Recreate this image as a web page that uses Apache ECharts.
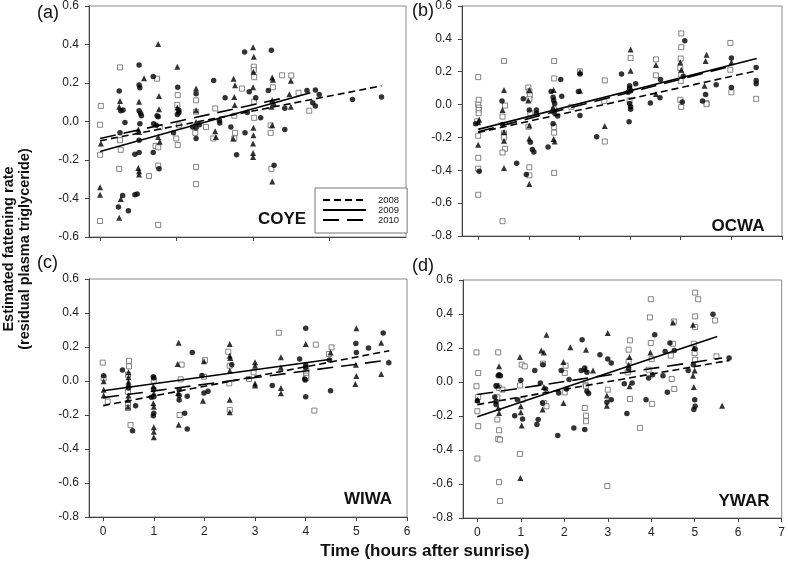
<!DOCTYPE html>
<html>
<head>
<meta charset="utf-8">
<script src="https://cdn.jsdelivr.net/npm/echarts@6/dist/echarts.min.js"></script>
<style>html,body{margin:0;padding:0;background:#fff}#c{width:788px;height:561px}</style>
</head>
<body>
<div id="c"></div>
<script>
// ---------- DATA ----------
const years = ['2008', '2009', '2010'];
const yTicksA = [-0.6, -0.4, -0.2, 0, 0.2, 0.4, 0.6];
const yTicksB = [-0.8, -0.6, -0.4, -0.2, 0, 0.2, 0.4, 0.6];
const xTicksA = [0, 2, 4, 6];
const xTicksB = [0, 1, 2, 3, 4, 5, 6];
const xTicksC = [0, 1, 2, 3, 4, 5, 6];
const xTicksD = [0, 1, 2, 3, 4, 5, 6, 7];
const speciesNames = ['COYE', 'OCWA', 'WIWA', 'YWAR'];
const panelLetters = ['(a)', '(b)', '(c)', '(d)'];

// COYE (a)
const coyeCircles = [[0.5,0.158],[0.54,0.056],[0.6,0.06],[0.65,-0.005],[0.52,-0.059],[0.59,-0.385],[0.48,-0.444],[0.74,-0.464],
[1.02,0.293],[1.02,0.19],[1.04,0.175],[1.02,0.056],[1.06,0.042],[1.08,0.03],[1.04,-0.012],[1.02,-0.097],[0.91,-0.17],[1.02,-0.161],[0.91,-0.381],[0.97,-0.376],
[1.39,0.234],[1.52,0.025],[1.49,0.03],[1.4,-0.012],[1.47,-0.02],[1.39,-0.161],[1.54,-0.246],
[2.03,0.178],[2.06,0.059],[2.06,0.047],[2.02,0.036],[1.92,-0.058],
[2.51,0.144],[2.42,-0.029],[2.51,-0.032],[2.6,-0.017],[2.51,-0.088],
[2.97,0.213],[3.27,0.124],[3.12,0.005],[3.13,-0.008],[3.42,-0.029],[3.57,-0.173],
[3.78,0.361],[3.85,0.047],[3.79,-0.059],[3.9,0.154],[4.07,0.124],[4.2,0.019],
[4.48,0.37],[4.4,0.161],[4.55,-0.227],[4.83,-0.042],[4.83,0.069],
[5.41,0.161],[5.63,0.163],[5.73,0.14],[5.56,0.098],[5.63,0.081],[6.6,0.114],[7.36,0.127]];
const coyeTriangles = [[0.02,-0.114],[0,-0.342],[0,-0.38],[0.52,0.107],[0.5,0.076],[0.54,-0.402],[0.5,-0.5],
[1.15,0.225],[1.02,0.102],[1.0,-0.042],[1.02,-0.054],[1.0,-0.241],[1.02,-0.258],[1.02,-0.275],
[1.52,0.403],[1.54,0.132],[1.54,0.064],[1.52,-0.08],[1.56,-0.105],
[2.02,0.285],[2.02,0.073],[2.51,0.171],[2.51,0.059],[2.51,-0.003],[3.01,-0.051],[3.03,-0.08],
[3.49,0.222],[3.53,0.188],[3.51,0.127],[3.52,0.086],[3.48,-0.088],
[4.0,0.386],[4.02,0.336],[4.01,0.259],[4.0,0.178],[4.01,-0.032],[4.01,-0.071],[4.0,-0.114],[4.0,-0.164],[4.0,-0.185],
[4.5,0.229],[4.52,0.217],[4.5,0.11],[4.55,0.093],[4.48,0.076],[4.5,-0.02],[4.5,-0.312],
[4.99,0.212],[4.95,0.141],[4.99,0.076]];
const coyeSquares = [[0.02,0.081],[0,-0.017],[0,-0.173],[0,-0.517],[0.52,0.281],[0.52,-0.097],[0.54,-0.147],[0.5,-0.246],
[1.49,0.222],[1.56,-0.029],[1.45,-0.127],[1.52,-0.134],[1.52,-0.229],[1.28,-0.283],[1.52,-0.537],
[2.03,0.137],[2.02,0.086],[2.06,-0.02],[1.99,-0.088],[2.03,-0.122],
[2.51,0.11],[2.51,0.051],[2.49,-0.059],[2.51,-0.236],[2.51,-0.325],[2.77,-0.029],
[3.01,0.068],[2.96,-0.088],[3.51,0.03],[3.71,0.171],[3.53,-0.059],[3.51,-0.088],
[4.02,0.285],[4.02,0.268],[4.03,0.23],[4.03,0.103],[4.03,0.019],
[4.52,0.178],[4.46,-0.02],[4.46,-0.059],[4.48,-0.246],[4.76,0.24],[5.0,0.239],[5.19,0.149],[5.47,0.056]];
const coye2008 = [[0,-0.10],[7.36,0.185]];
const coye2009 = [[0,-0.156],[5.5,0.149]];
const coye2010 = [[0,-0.088],[4.85,0.124]];

// OCWA (b)
const ocwaCircles = [[-0.05,-0.116],[0.02,-0.406],[0.47,0.022],[0.48,-0.122],[0.89,0.035],[0.76,-0.357],
[1.01,-0.033],[1.03,-0.229],[1.07,-0.273],[1.1,-0.288],[0.95,-0.425],[1.15,-0.053],[1.15,-0.033],[1.38,-0.259],
[1.44,0.08],[1.48,0.045],[1.49,0.025],[1.51,0.006],[1.5,-0.049],[1.57,-0.069],[1.48,-0.116],[1.63,0.153],[1.65,0.051],
[2.01,0.186],[1.98,0.08],[2.01,-0.067],[2.34,-0.196],[2.83,0.186],
[3.11,0.127],[2.99,0.114],[2.99,0.1],[3.01,0.084],[2.96,0.075],[2.99,0.006],[3.01,-0.014],[3.01,-0.029],[2.98,-0.104],
[3.4,0.01],[3.6,0.153],[3.59,0.041],[4.08,0.388],[4.05,0.173],[4.03,0.016],[4.43,0.022],[4.49,0.061],[4.7,0.12],
[5.0,0.284],[5.0,0.104],[5.49,0.226],[5.49,0.147],[5.49,0.127]];
const ocwaTriangles = [[0.02,-0.092],[0,-0.108],[0,-0.245],[0.51,0.088],[0.48,-0.033],[0.51,-0.167],[0.51,-0.22],[0.51,-0.386],
[1.01,0.088],[0.99,0.025],[1.01,-0.127],[1.01,-0.206],[1.01,-0.484],[1.49,0.088],[1.48,-0.018],[1.49,-0.21],[1.51,-0.225],
[2.01,0.198],[2.01,0.084],[2.5,-0.131],[3.01,0.335],[3.01,0.206],[3.51,0.241],[3.51,0.065],
[3.99,0.257],[4.01,0.212],[4.51,0.304],[4.49,0.265],[4.47,0.114],[5.0,0.257]];
const ocwaSquares = [[0,0.167],[0,0.002],[0.01,0.029],[0.01,-0.018],[0.01,-0.033],[0.01,-0.053],[-0.02,-0.102],[0,-0.19],[0,-0.324],[0,-0.39],[0,-0.549],
[0.51,0.265],[0.53,-0.006],[0.48,-0.073],[0.51,-0.175],[0.51,-0.2],[0.53,-0.269],[0.48,-0.292],[0.48,-0.71],
[0.99,0.104],[1.01,0.08],[1.02,0.055],[1.01,0.035],[1.03,-0.053],[0.99,-0.135],[1.01,-0.382],[1.01,-0.431],
[1.5,0.265],[1.5,0.159],[1.5,-0.029],[1.5,-0.137],[1.5,-0.171],[1.5,-0.416],[1.84,-0.014],
[2.01,0.202],[2.5,0.147],[2.49,0.022],[2.5,-0.225],[3.01,0.284],[2.99,0.025],[3.51,0.275],[3.51,0.178],
[4.01,0.433],[4.01,0.349],[4.0,0.28],[3.99,0.222],[4.01,0.182],[4.0,0.143],[3.99,0.029],[4.01,-0.014],
[4.51,0.01],[4.51,0.002],[4.98,0.375],[4.98,0.212],[5.0,0.075],[5.49,0.035]];
const ocwa2008 = [[0,-0.17],[5.5,0.206]];
const ocwa2009 = [[0,-0.151],[5.5,0.28]];
const ocwa2010 = [[0,-0.165],[5.0,0.235]];

// WIWA (c)
const wiwaCircles = [[0.01,0.031],[0.38,0.065],[0.5,-0.041],[0.64,-0.145],[0.58,-0.292],
[0.99,0.025],[1.0,0.018],[1.0,-0.047],[0.95,-0.096],[1.0,-0.092],[1.0,-0.19],[0.99,-0.204],
[1.5,-0.051],[1.5,-0.086],[1.5,-0.112],[1.61,-0.19],[1.66,-0.09],[1.66,-0.282],[1.76,0.168],
[1.95,0.033],[2.07,-0.061],[1.99,-0.071],[2.54,0.096],[3.34,-0.027],[3.88,0.129],
[4.0,0.311],[4.0,0.094],[4.0,0.08],[3.98,0.012],[3.99,0.006],[4.0,-0.092],[4.47,0.123],[4.49,-0.057],
[4.99,0.221],[5.0,0.168],[5.24,0.194],[5.53,0.282],[5.64,0.108]];
const wiwaTriangles = [[0.01,-0.002],[0.01,-0.051],[0.01,-0.086],[0.5,0.051],[0.5,0.022],[0.5,-0.004],[0.5,-0.018],[0.5,-0.086],[0.49,-0.112],[0.49,-0.151],
[0.99,-0.031],[1.0,-0.072],[0.99,-0.131],[1.0,-0.151],[1.0,-0.272],[1.0,-0.298],[1.0,-0.331],
[1.49,0.225],[1.47,0.1],[1.48,-0.071],[1.49,-0.257],[1.99,0.116],[1.97,-0.116],
[2.5,0.217],[2.5,0.149],[2.51,0.135],[2.5,0.061],[2.5,-0.11],[2.5,-0.184],
[3.0,0.11],[3.0,0.09],[3.0,-0.014],[3.0,-0.027],[3.51,0.139],[3.51,0.08],[3.51,-0.041],[3.51,-0.072],
[4.0,0.217],[4.49,0.168],[5.0,0.311],[4.99,0.096],[5.0,0.029],[4.98,-0.018],[5.49,0.225],[5.49,0.041]];
const wiwaSquares = [[-0.01,0.108],[0.01,0.016],[0.09,-0.121],[0.51,0.119],[0.51,0.086],[0.49,0.037],[0.49,-0.063],[0.49,-0.131],[0.49,-0.159],[0.54,-0.259],
[1.0,0.002],[1.55,0.096],[1.53,0.01],[1.51,-0.2],[2.01,0.123],[1.99,0.025],
[2.47,0.172],[2.5,0.09],[2.49,-0.014],[2.5,-0.17],[2.88,0.012],[2.97,0.051],[3.47,0.284],
[4.01,0.061],[4.01,0.045],[4.01,0.031],[4.01,0.018],[4.2,0.214],[4.17,-0.174],[4.51,0.198],[4.46,0.159]];
const wiwa2008 = [[0,-0.145],[5.65,0.178]];
const wiwa2009 = [[0,-0.057],[4.5,0.128]];
const wiwa2010 = [[0,-0.098],[5.65,0.124]];

// YWAR (d)
const ywarCircles = [[0,-0.11],[0.43,-0.022],[0.4,-0.088],[0.43,-0.114],[0.43,-0.133],[0.48,0.037],[0.5,0.043],[0.53,0.037],
[0.86,-0.198],[1.0,0.01],[0.92,-0.104],[1.04,-0.217],[1.32,0.068],[1.4,-0.221],[1.37,-0.25],
[1.51,0.102],[1.45,-0.006],[1.57,-0.041],[1.5,-0.123],[1.85,-0.315],[1.87,-0.065],[1.93,0.068],
[2.05,-0.041],[2.11,0.014],[2.22,-0.27],[2.39,0.068],[2.41,0.249],[2.47,0.082],[2.52,0.057],[2.52,-0.055],[2.56,-0.068],[2.47,-0.28],
[2.82,0.16],[3.0,0.135],[3.08,0.112],[2.98,-0.119],[3.08,-0.104],[3.44,-0.186],[3.38,-0.01],[3.48,0.076],[3.56,-0.006],
[3.88,-0.104],[3.94,0.023],[4.03,0.043],[4.08,0.278],[4.27,0.037],[4.32,0.18],[4.37,-0.061],[4.43,0.229],[4.53,0.186],
[4.85,0.068],[5.01,0.194],[4.97,0.102],[5.0,-0.104],[5.01,-0.143],[4.98,-0.162],[5.42,0.399],[5.79,0.141]];
const ywarTriangles = [[0,-0.104],[0.5,0.092],[0.48,-0.02],[0.48,-0.153],[0.5,-0.182],[0.98,0.147],[1.0,-0.143],[1.0,-0.178],[1.02,-0.256],[0.99,-0.564],
[1.47,0.186],[1.53,0.174],[1.53,-0.029],[1.5,-0.162],[1.59,0.278],[1.98,0.117],[1.98,-0.123],[2.14,0.205],
[2.49,0.076],[2.5,0.19],[2.66,0.068],[3.0,0.288],[2.98,-0.08],[2.98,-0.139],[3.5,0.147],[3.48,0.102],[3.5,-0.025],
[3.98,0.174],[4.5,0.35],[4.96,0.337],[4.98,0.2],[5.0,0.068],[4.96,0.037],[4.98,-0.029],[5.63,-0.139]];
const ywarSquares = [[-0.02,0.174],[0.02,0.053],[-0.02,-0.025],[0.02,-0.088],[0,-0.172],[0.02,-0.26],[0,-0.45],
[0.48,0.174],[0.46,-0.025],[0.5,-0.035],[0.46,-0.09],[0.46,-0.221],[0.5,-0.284],[0.48,-0.335],[0.52,-0.339],[0.5,-0.589],[0.52,-0.70],[0.58,-0.045],
[1.02,0.102],[1.09,0.092],[0.98,-0.02],[1.04,-0.104],[0.98,-0.423],[1.51,0.108],[1.53,-0.123],[1.59,-0.143],
[2.03,0.096],[2.01,0.053],[2.01,-0.061],[2.49,-0.016],[2.5,-0.025],[2.47,-0.153],[2.5,-0.198],[2.5,-0.231],
[3.0,-0.045],[2.99,-0.612],[3.51,0.245],[3.48,0.19],[3.48,0.121],[3.46,0.057],[3.51,-0.1],[3.74,-0.27],
[3.94,0.072],[3.99,0.487],[3.97,0.38],[3.99,0.229],[4.01,0.135],[4.02,-0.129],
[4.5,0.225],[4.52,0.356],[4.45,0.155],[4.47,0.018],[4.53,-0.041],
[5.01,0.526],[5.01,0.386],[5.01,0.323],[4.98,0.225],[5.0,0.17],[5.01,0.131],[5.08,0.487],[5.47,0.362],[5.5,0.151]];
const ywar2008 = [[0,-0.133],[5.8,0.127]];
const ywar2009 = [[0,-0.205],[5.52,0.268]];
const ywar2010 = [[0,-0.074],[5.63,0.141]];

// ---------- LAYOUT / STYLE ----------
const panels = [
  {grid:{left:89, top:6, width:317, height:231}, xmin:-0.29, xmax:8, xticks:xTicksA, xlabels:false, yticks:yTicksA, ymin:-0.6, ymax:0.6,
   circles:coyeCircles, triangles:coyeTriangles, squares:coyeSquares, lines:[coye2008, coye2009, coye2010]},
  {grid:{left:462, top:6, width:320, height:230}, xmin:-0.32, xmax:6, xticks:xTicksB, xlabels:false, yticks:yTicksB, ymin:-0.8, ymax:0.6,
   circles:ocwaCircles, triangles:ocwaTriangles, squares:ocwaSquares, lines:[ocwa2008, ocwa2009, ocwa2010]},
  {grid:{left:89, top:279, width:318, height:238}, xmin:-0.28, xmax:6, xticks:xTicksC, xlabels:true, yticks:yTicksB, ymin:-0.8, ymax:0.6,
   circles:wiwaCircles, triangles:wiwaTriangles, squares:wiwaSquares, lines:[wiwa2008, wiwa2009, wiwa2010]},
  {grid:{left:463, top:280, width:320, height:238}, xmin:-0.33, xmax:7, xticks:xTicksD, xlabels:true, yticks:yTicksB, ymin:-0.8, ymax:0.6,
   circles:ywarCircles, triangles:ywarTriangles, squares:ywarSquares, lines:[ywar2008, ywar2009, ywar2010]}
];
const dashes = {'2008':[7,4], '2009':'solid', '2010':[16,8]};
const FONT = 'Liberation Sans, Arial, sans-serif';

const grids = [], xAxes = [], yAxes = [], series = [];
panels.forEach((p, i) => {
  grids.push(Object.assign({show:true, borderColor:'#8a8a8a', borderWidth:1, backgroundColor:'#fff'}, p.grid));
  xAxes.push({type:'value', gridIndex:i, min:p.xmin, max:p.xmax,
    axisLine:{show:true, onZero:false, lineStyle:{color:'#444', width:1}},
    axisTick:{show:true, length:4, customValues:p.xticks, lineStyle:{color:'#444'}},
    axisLabel:{show:p.xlabels, customValues:p.xticks, margin:9, fontSize:12, color:'#222', fontFamily:FONT},
    splitLine:{show:false}});
  yAxes.push({type:'value', gridIndex:i, min:p.ymin, max:p.ymax,
    axisLine:{show:true, onZero:false, lineStyle:{color:'#444', width:1}},
    axisTick:{show:true, length:4, customValues:p.yticks, lineStyle:{color:'#444'}},
    axisLabel:{show:true, customValues:p.yticks, margin:10, fontSize:12, color:'#222', fontFamily:FONT,
      formatter: v => (Math.abs(v) < 1e-9 ? '0.0' : Number(v).toFixed(1))},
    splitLine:{show:false}});
  series.push({type:'scatter', xAxisIndex:i, yAxisIndex:i, data:p.squares, symbol:'rect', symbolSize:5,
    itemStyle:{color:'#fff', borderColor:'#666', borderWidth:1}, silent:true, z:2});
  series.push({type:'scatter', xAxisIndex:i, yAxisIndex:i, data:p.triangles, symbol:'triangle', symbolSize:6,
    itemStyle:{color:'#000'}, silent:true, z:3});
  series.push({type:'scatter', xAxisIndex:i, yAxisIndex:i, data:p.circles, symbol:'circle', symbolSize:5.5,
    itemStyle:{color:'#000'}, silent:true, z:3});
  p.lines.forEach((ln, k) => {
    const yr = years[k];
    series.push({type:'line', name:yr, xAxisIndex:i, yAxisIndex:i, data:ln, symbol:'none', silent:true, z:4,
      itemStyle:{color:'#000'},
      lineStyle:{color:'#000', width:1.6, type:dashes[yr]}});
  });
});

const graphics = [];
const letterPos = [[37,13],[412,11],[37,263],[412,266]];
panelLetters.forEach((t, i) => graphics.push({type:'text', x:letterPos[i][0], y:letterPos[i][1],
  style:{text:t, font:'18px ' + FONT, fill:'#111', textVerticalAlign:'middle'}}));
const spPos = [[282,219],[738,226],[368,499],[744,501]];
speciesNames.forEach((t, i) => graphics.push({type:'text', x:spPos[i][0], y:spPos[i][1],
  style:{text:t, font:'bold 17px ' + FONT, fill:'#111', textAlign:'center', textVerticalAlign:'middle'}}));
graphics.push({type:'text', x:9, y:249, rotation:Math.PI/2,
  style:{text:'Estimated fattening rate', font:'bold 14.5px ' + FONT, fill:'#111', textAlign:'center', textVerticalAlign:'middle'}});
graphics.push({type:'text', x:25, y:249, rotation:Math.PI/2,
  style:{text:'(residual plasma triglyceride)', font:'bold 14.5px ' + FONT, fill:'#111', textAlign:'center', textVerticalAlign:'middle'}});
graphics.push({type:'text', x:425, y:551,
  style:{text:'Time (hours after sunrise)', font:'bold 17px ' + FONT, fill:'#111', textAlign:'center', textVerticalAlign:'middle'}});

const chart = echarts.init(document.getElementById('c'), null, {renderer:'canvas'});
chart.setOption({
  animation:false,
  backgroundColor:'#fff',
  grid:grids, xAxis:xAxes, yAxis:yAxes, series:series,
  legend:{data:years, orient:'vertical', left:315, top:188, itemWidth:43, itemHeight:8, itemGap:0,
    padding:[7,8,8,7], borderColor:'#777', borderWidth:1, backgroundColor:'#fff', selectedMode:false,
    itemStyle:{opacity:0},
    textStyle:{fontSize:9.5, color:'#222', fontFamily:FONT, padding:[0,0,0,7]}},
  graphic:graphics
});
</script>
</body>
</html>
